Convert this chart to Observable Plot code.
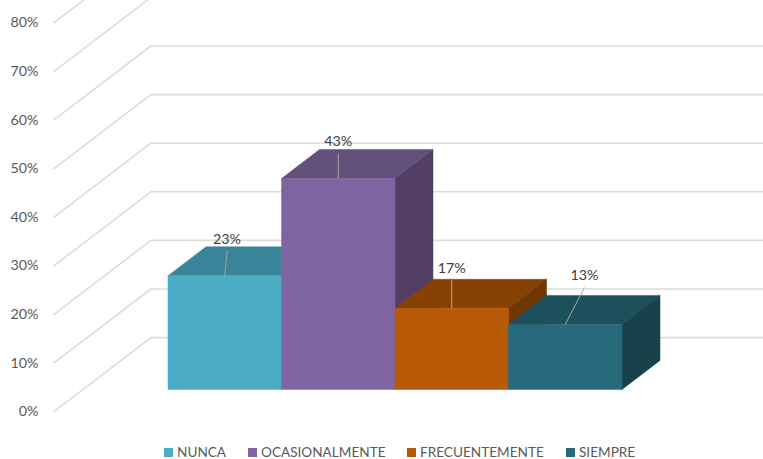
<!DOCTYPE html>
<html>
<head>
<meta charset="utf-8">
<script src="https://cdn.jsdelivr.net/npm/d3@7"></script>
<script src="https://cdn.jsdelivr.net/npm/@observablehq/plot@0.6"></script>
<style>
  html, body { margin: 0; padding: 0; background: #fff; overflow: hidden; }
  #legend { display: flex; height: 14px; margin-top: 4px; padding-left: 164px;
            font: 13.6px Lato, sans-serif; color: #595959; line-height: 14px; }
  #legend .item { display: flex; align-items: center; white-space: nowrap; }
  #legend .sw { width: 9px; height: 9px; margin-right: 4px; }
</style>
</head>
<body>
<div id="chart"></div>
<div id="legend"></div>
<script>
// Data
const categories = ["NUNCA", "OCASIONALMENTE", "FRECUENTEMENTE", "SIEMPRE"];
const values = [23.4, 43.4, 16.7, 13.4];
const axisTicks = [0, 10, 20, 30, 40, 50, 60, 70, 80];

// Styling
const frontColors = ["#4BACC6", "#8064A2", "#B85A05", "#276A7C"];
const topColors   = ["#3A8499", "#63507B", "#874103", "#1D505D"];
const sideColors  = ["#33707F", "#533F66", "#6F3601", "#19414C"];
const legendWidths = [84, 159, 159, 100];

// Leader lines of the data labels, in category and percent units
const leaderShift = [0.02, 0, 0, 0.17];
const leaderRise = [5.1, 5.1, 5.8, 7.6];

// Oblique projection: one bar depth moves a point right and up, in data units
const depthX = 38 / 113.5;
const depthY = 29 / 4.86;
const project = (u, v, d) => ({x: u + d * depthX, y: v + d * depthY});

// Walls, expressed in the coordinates of the bars
const wallLeft = -0.75;
const wallFront = -0.76;
const wallBack = 1.79;
const plotRightEdge = 5.3;

const gridLines = axisTicks.flatMap((t) => {
  const back = project(wallLeft, t, wallBack);
  return [
    {tick: t, ...project(wallLeft, t, wallFront)},
    {tick: t, ...back},
    {tick: t, x: plotRightEdge, y: back.y}
  ];
});

const faces = values.flatMap((v, i) => {
  const face = (name, fill, corners) =>
    [...corners, corners[0]].map(([u, h, d]) => ({id: `${i}-${name}`, fill, ...project(u, h, d)}));
  return [
    ...face("top", topColors[i], [[i, v, 0], [i + 1, v, 0], [i + 1, v, 1], [i, v, 1]]),
    ...face("side", sideColors[i], [[i + 1, 0, 0], [i + 1, v, 0], [i + 1, v, 1], [i + 1, 0, 1]]),
    ...face("front", frontColors[i], [[i, 0, 0], [i + 1, 0, 0], [i + 1, v, 0], [i, v, 0]])
  ];
});

const labels = values.map((v, i) => ({
  x1: i + 0.5, y1: v,
  x2: i + 0.5 + leaderShift[i], y2: v + leaderRise[i],
  text: `${Math.round(v)}%`
}));

const axisLabels = axisTicks.map((t) => ({...project(wallLeft, t, wallFront), text: `${t}%`}));

const chart = Plot.plot({
  width: 763,
  height: 441,
  margin: 0,
  style: {background: "#fff", fontFamily: "Lato, sans-serif"},
  x: {domain: [0, 4], range: [167.5, 621.5], axis: null},
  y: {domain: [0, 100], range: [389, -97], axis: null},
  color: {type: "identity"},
  marks: [
    Plot.line(gridLines, {x: "x", y: "y", z: "tick", stroke: "#DCDCDC", strokeWidth: 1.6, curve: "linear"}),
    Plot.text(axisLabels, {x: "x", y: "y", text: "text", textAnchor: "end", dx: -15.5, fontSize: 14.3, fill: "#595959"}),
    Plot.line(faces, {x: "x", y: "y", z: "id", fill: "fill", stroke: "fill", strokeWidth: 0.5, curve: "linear"}),
    Plot.link(labels, {x1: "x1", y1: "y1", x2: "x2", y2: "y2", stroke: "#A6A6A6", strokeWidth: 1}),
    Plot.text(labels, {x: "x2", y: "y2", text: "text", dy: -12, fontSize: 14.3, fill: "#404040"})
  ]
});
document.getElementById("chart").append(chart);

const legend = document.getElementById("legend");
categories.forEach((c, i) => {
  const item = document.createElement("div");
  item.className = "item";
  item.style.width = legendWidths[i] + "px";
  const sw = document.createElement("span");
  sw.className = "sw";
  sw.style.background = frontColors[i];
  item.append(sw, document.createTextNode(c));
  legend.append(item);
});
</script>
</body>
</html>
